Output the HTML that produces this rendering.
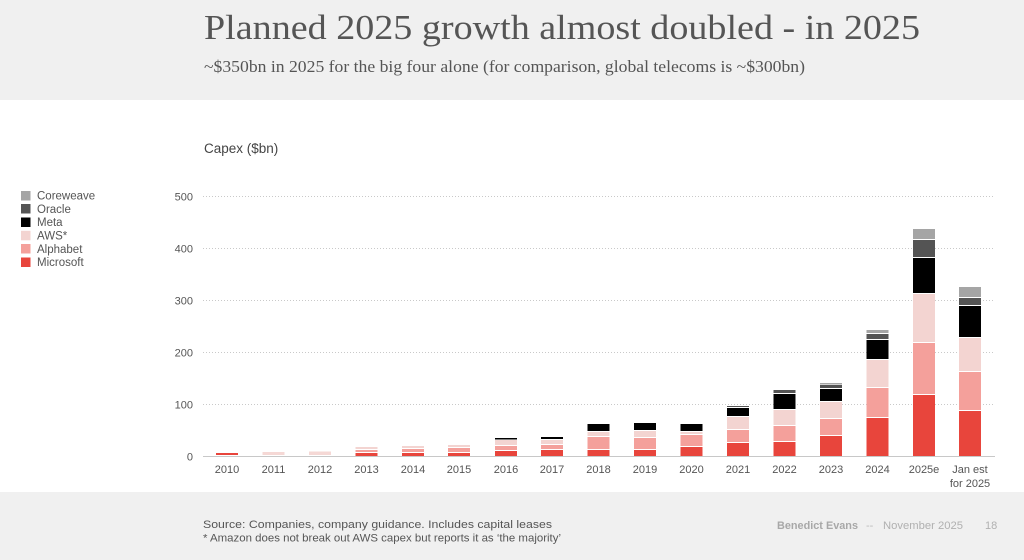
<!DOCTYPE html>
<html><head><meta charset="utf-8"><style>
html,body{margin:0;padding:0;background:#fff;}
svg{display:block;}
</style></head><body>
<svg width="1024" height="560" viewBox="0 0 1024 560" xmlns="http://www.w3.org/2000/svg" font-family="'Liberation Sans', sans-serif">
<rect x="0" y="0" width="1024" height="560" fill="#fff"/>
<rect x="0" y="0" width="1024" height="100" fill="#f0f0f0"/>
<rect x="0" y="492" width="1024" height="68" fill="#f0f0f0"/>
<text x="204" y="39" font-family="'Liberation Serif', serif" font-size="35" fill="#555" textLength="716" lengthAdjust="spacingAndGlyphs">Planned 2025 growth almost doubled - in 2025</text>
<text x="204" y="72" font-family="'Liberation Serif', serif" font-size="16.5" fill="#555" textLength="601" lengthAdjust="spacingAndGlyphs">~$350bn in 2025 for the big four alone (for comparison, global telecoms is ~$300bn)</text>
<text x="204" y="153" font-size="13.5" fill="#444">Capex ($bn)</text>
<g font-size="11.5" fill="#555">
<rect x="21" y="191" width="9.5" height="9.5" fill="#a5a5a5"/><text x="37" y="199.5">Coreweave</text>
<rect x="21" y="204" width="9.5" height="9.5" fill="#545454"/><text x="37" y="212.8">Oracle</text>
<rect x="21" y="217.5" width="9.5" height="9.5" fill="#000"/><text x="37" y="226.2">Meta</text>
<rect x="21" y="230.8" width="9.5" height="9.5" fill="#f3d4d1"/><text x="37" y="239.5">AWS*</text>
<rect x="21" y="244" width="9.5" height="9.5" fill="#f4a09b"/><text x="37" y="252.8">Alphabet</text>
<rect x="21" y="257.5" width="9.5" height="9.5" fill="#e8453c"/><text x="37" y="266.2">Microsoft</text>
</g>
<g stroke="#c9c9c9" stroke-width="1" stroke-dasharray="1,2">
<line x1="203" y1="196.5" x2="995" y2="196.5"/>
<line x1="203" y1="248.5" x2="995" y2="248.5"/>
<line x1="203" y1="300.5" x2="995" y2="300.5"/>
<line x1="203" y1="352.5" x2="995" y2="352.5"/>
<line x1="203" y1="404.5" x2="995" y2="404.5"/>
</g>
<g font-size="11" fill="#555" text-anchor="end">
<text x="193" y="200.5">500</text>
<text x="193" y="252.5">400</text>
<text x="193" y="304.5">300</text>
<text x="193" y="356.5">200</text>
<text x="193" y="408.5">100</text>
<text x="193" y="460.5">0</text>
</g>
<g>
<!-- 2010 -->
<rect x="216" y="453" width="22" height="2" fill="#e8453c"/>
<!-- 2011 -->
<rect x="262.5" y="452" width="22" height="3" fill="#f5d8d5"/>
<!-- 2012 -->
<rect x="309" y="451.5" width="22" height="3.5" fill="#f5d8d5"/>
<!-- 2013 -->
<rect x="355.5" y="453" width="22" height="3" fill="#e8453c"/>
<rect x="355.5" y="450" width="22" height="2" fill="#f4a09b"/>
<rect x="355.5" y="447" width="22" height="2" fill="#f3d4d1"/>
<!-- 2014 -->
<rect x="402" y="453" width="22" height="3" fill="#e8453c"/>
<rect x="402" y="449" width="22" height="3" fill="#f4a09b"/>
<rect x="402" y="446" width="22" height="2" fill="#f3d4d1"/>
<!-- 2015 -->
<rect x="448" y="453" width="22" height="3" fill="#e8453c"/>
<rect x="448" y="448" width="22" height="4" fill="#f4a09b"/>
<rect x="448" y="445" width="22" height="2" fill="#f3d4d1"/>
<!-- 2016 -->
<rect x="495" y="451" width="22" height="5" fill="#e8453c"/>
<rect x="495" y="446" width="22" height="4" fill="#f4a09b"/>
<rect x="495" y="440" width="22" height="5" fill="#f3d4d1"/>
<rect x="495" y="438" width="22" height="1.5" fill="#000"/>
<!-- 2017 -->
<rect x="541" y="450" width="22" height="6" fill="#e8453c"/>
<rect x="541" y="445" width="22" height="4" fill="#f4a09b"/>
<rect x="541" y="440" width="22" height="4" fill="#f3d4d1"/>
<rect x="541" y="437" width="22" height="2" fill="#000"/>
<!-- 2018 -->
<rect x="587.5" y="450" width="22" height="6" fill="#e8453c"/>
<rect x="587.5" y="437" width="22" height="12" fill="#f4a09b"/>
<rect x="587.5" y="432" width="22" height="4" fill="#f3d4d1"/>
<rect x="587.5" y="424" width="22" height="7" fill="#000"/>
<!-- 2019 -->
<rect x="634" y="450" width="22" height="6" fill="#e8453c"/>
<rect x="634" y="438" width="22" height="11" fill="#f4a09b"/>
<rect x="634" y="431" width="22" height="6" fill="#f3d4d1"/>
<rect x="634" y="423" width="22" height="7" fill="#000"/>
<!-- 2020 -->
<rect x="680.5" y="447" width="22" height="9" fill="#e8453c"/>
<rect x="680.5" y="435" width="22" height="11" fill="#f4a09b"/>
<rect x="680.5" y="432" width="22" height="2" fill="#f3d4d1"/>
<rect x="680.5" y="424" width="22" height="7" fill="#000"/>
<!-- 2021 -->
<rect x="727" y="443" width="22" height="13" fill="#e8453c"/>
<rect x="727" y="430" width="22" height="12" fill="#f4a09b"/>
<rect x="727" y="417" width="22" height="12" fill="#f3d4d1"/>
<rect x="727" y="408" width="22" height="8" fill="#000"/>
<rect x="727" y="406" width="22" height="1" fill="#545454"/>
<!-- 2022 -->
<rect x="773.5" y="442" width="22" height="14" fill="#e8453c"/>
<rect x="773.5" y="426" width="22" height="15" fill="#f4a09b"/>
<rect x="773.5" y="410" width="22" height="15" fill="#f3d4d1"/>
<rect x="773.5" y="394" width="22" height="15" fill="#000"/>
<rect x="773.5" y="390" width="22" height="3" fill="#545454"/>
<!-- 2023 -->
<rect x="820" y="436" width="22" height="20" fill="#e8453c"/>
<rect x="820" y="419" width="22" height="16" fill="#f4a09b"/>
<rect x="820" y="402" width="22" height="16" fill="#f3d4d1"/>
<rect x="820" y="389" width="22" height="12" fill="#000"/>
<rect x="820" y="385" width="22" height="3" fill="#545454"/>
<rect x="820" y="383" width="22" height="1.5" fill="#a5a5a5"/>
<!-- 2024 -->
<rect x="866.5" y="418" width="22" height="38" fill="#e8453c"/>
<rect x="866.5" y="388" width="22" height="29" fill="#f4a09b"/>
<rect x="866.5" y="360" width="22" height="27" fill="#f3d4d1"/>
<rect x="866.5" y="340" width="22" height="19" fill="#000"/>
<rect x="866.5" y="334" width="22" height="5" fill="#545454"/>
<rect x="866.5" y="330" width="22" height="3" fill="#a5a5a5"/>
<!-- 2025e -->
<rect x="913" y="395" width="22" height="61" fill="#e8453c"/>
<rect x="913" y="343" width="22" height="51" fill="#f4a09b"/>
<rect x="913" y="294" width="22" height="48" fill="#f3d4d1"/>
<rect x="913" y="258" width="22" height="35" fill="#000"/>
<rect x="913" y="240" width="22" height="17" fill="#545454"/>
<rect x="913" y="229" width="22" height="10" fill="#a5a5a5"/>
<!-- Jan est -->
<rect x="959" y="411" width="22" height="45" fill="#e8453c"/>
<rect x="959" y="372" width="22" height="38" fill="#f4a09b"/>
<rect x="959" y="338" width="22" height="33" fill="#f3d4d1"/>
<rect x="959" y="306" width="22" height="31" fill="#000"/>
<rect x="959" y="298" width="22" height="7" fill="#545454"/>
<rect x="959" y="287" width="22" height="10" fill="#a5a5a5"/>
</g>
<line x1="203" y1="456.5" x2="995" y2="456.5" stroke="#c8c8c8" stroke-width="1"/>
<g font-size="11" fill="#555" text-anchor="middle">
<text x="227" y="473">2010</text>
<text x="273.5" y="473">2011</text>
<text x="320" y="473">2012</text>
<text x="366.5" y="473">2013</text>
<text x="413" y="473">2014</text>
<text x="459" y="473">2015</text>
<text x="506" y="473">2016</text>
<text x="552" y="473">2017</text>
<text x="598.5" y="473">2018</text>
<text x="645" y="473">2019</text>
<text x="691.5" y="473">2020</text>
<text x="738" y="473">2021</text>
<text x="784.5" y="473">2022</text>
<text x="831" y="473">2023</text>
<text x="877.5" y="473">2024</text>
<text x="924" y="473">2025e</text>
<text x="970" y="473">Jan est</text>
<text x="970" y="487">for 2025</text>
</g>
<g font-size="11" fill="#555">
<text x="203" y="528" textLength="349" lengthAdjust="spacingAndGlyphs">Source: Companies, company guidance. Includes capital leases</text>
<text x="203" y="541.5" textLength="358" lengthAdjust="spacingAndGlyphs">* Amazon does not break out AWS capex but reports it as ‘the majority’</text>
</g>
<text x="777" y="529" font-size="11" font-weight="bold" fill="#a8a8a8" textLength="81" lengthAdjust="spacingAndGlyphs">Benedict Evans</text>
<text x="866" y="529" font-size="11" fill="#bbb">--</text>
<text x="883" y="529" font-size="11" fill="#b0b0b0" textLength="80" lengthAdjust="spacingAndGlyphs">November 2025</text>
<text x="985" y="529" font-size="11" fill="#b0b0b0">18</text>
</svg>
</body></html>
